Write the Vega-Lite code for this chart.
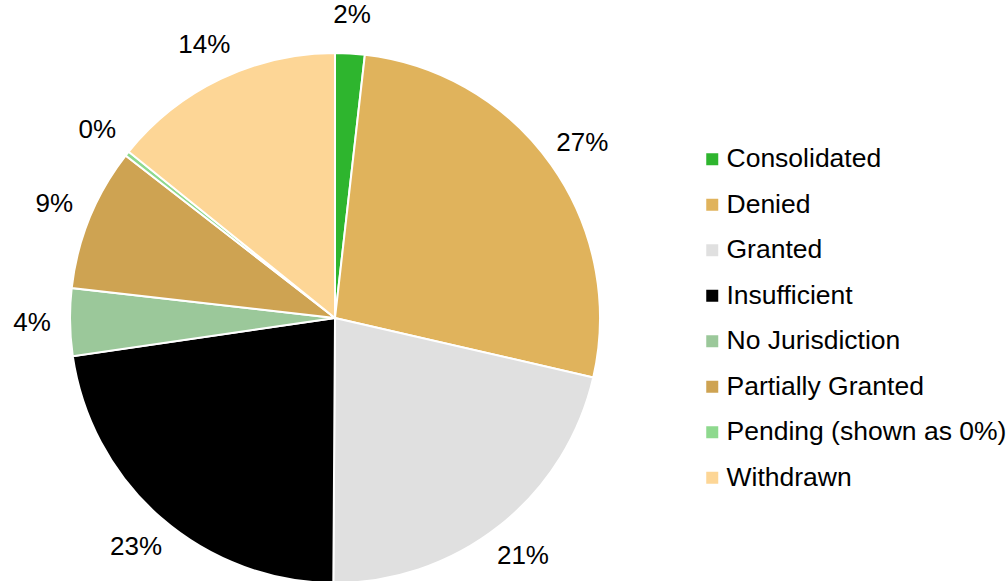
{
  "$schema": "https://vega.github.io/schema/vega-lite/v6.json",
  "width": 670,
  "height": 636,
  "padding": {"left": 0, "top": 0, "right": 337, "bottom": 0},
  "autosize": "none",
  "background": "white",
  "data": {
    "values": [
      {"category": "Consolidated", "value": 1.8, "label": "2%", "k": 1},
      {"category": "Denied", "value": 26.8, "label": "27%", "k": 2},
      {"category": "Granted", "value": 21.5, "label": "21%", "k": 3},
      {"category": "Insufficient", "value": 22.6, "label": "23%", "k": 4},
      {"category": "No Jurisdiction", "value": 4.1, "label": "4%", "k": 5},
      {"category": "Partially Granted", "value": 8.7, "label": "9%", "k": 6},
      {"category": "Pending (shown as 0%)", "value": 0.3, "label": "0%", "k": 7},
      {"category": "Withdrawn", "value": 14.2, "label": "14%", "k": 8}
    ]
  },
  "encoding": {
    "theta": {"field": "value", "type": "quantitative", "stack": true},
    "order": {"field": "k", "type": "quantitative"},
    "color": {
      "field": "category",
      "type": "nominal",
      "sort": null,
      "scale": {
        "domain": ["Consolidated", "Denied", "Granted", "Insufficient", "No Jurisdiction", "Partially Granted", "Pending (shown as 0%)", "Withdrawn"],
        "range": ["#2EB52E", "#E0B35C", "#E0E0E0", "#000000", "#9BC89A", "#CEA352", "#8ED98E", "#FDD696"]
      },
      "legend": {
        "orient": "none",
        "legendX": 699,
        "legendY": 146,
        "title": null,
        "symbolType": "square",
        "symbolSize": 144,
        "symbolStrokeWidth": 0,
        "labelFontSize": 26.5,
        "labelFont": "Liberation Sans",
        "labelColor": "#000000",
        "labelOffset": 1,
        "rowPadding": 18.5,
        "labelLimit": 400
      }
    }
  },
  "layer": [
    {
      "mark": {"type": "arc", "radius": 265, "stroke": "white", "strokeWidth": 2}
    },
    {
      "mark": {"type": "text", "radius": 303, "fontSize": 26, "font": "Liberation Sans", "fill": "#000000"},
      "encoding": {
        "text": {"field": "label", "type": "nominal"},
        "color": {"value": "#000000"}
      }
    }
  ],
  "config": {"view": {"stroke": null}}
}
